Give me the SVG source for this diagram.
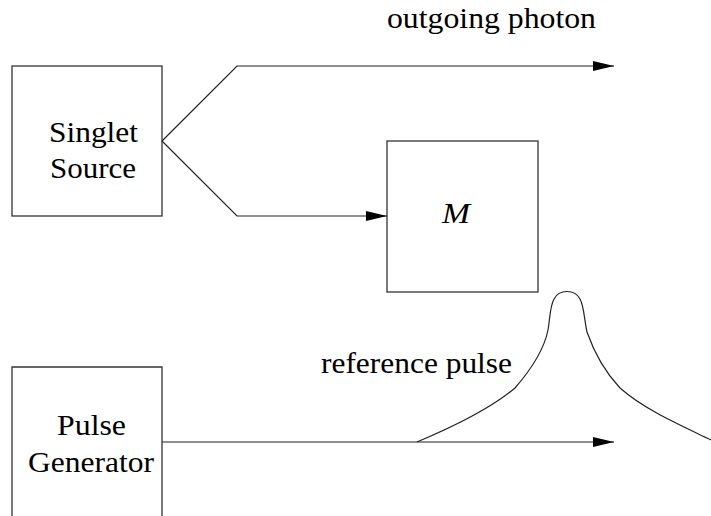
<svg xmlns="http://www.w3.org/2000/svg" width="711" height="516" viewBox="0 0 711 516">
<style>
.box{fill:none;stroke:#333;stroke-width:1.3}
.ln{fill:none;stroke:#222;stroke-width:1.2}
.t{font-family:'Liberation Serif','Times New Roman','DejaVu Serif',serif;font-size:30px;fill:#000}
</style>
<defs>
<marker id="ah" markerWidth="21" markerHeight="10" refX="21" refY="5" orient="auto" markerUnits="userSpaceOnUse">
<path d="M0,0 L21,5 L0,10 Z" fill="#000"/>
</marker>
</defs>
<rect width="711" height="516" fill="#fff"/>
<g id="singlet-source">
<rect class="box" x="12" y="66" width="150" height="150"/>
<text class="t" x="49" y="142" textLength="89" lengthAdjust="spacingAndGlyphs">Singlet</text>
<text class="t" x="50" y="178" textLength="86" lengthAdjust="spacingAndGlyphs">Source</text>
</g>
<g id="m-box">
<rect class="box" x="387" y="141" width="151" height="151"/>
<text class="t" x="442" y="223" font-style="italic" textLength="28" lengthAdjust="spacingAndGlyphs">M</text>
</g>
<g id="pulse-generator">
<path class="box" d="M12,520 L12,367 L162,367 L162,520"/>
<text class="t" x="57" y="435" textLength="69" lengthAdjust="spacingAndGlyphs">Pulse</text>
<text class="t" x="28" y="472" textLength="126" lengthAdjust="spacingAndGlyphs">Generator</text>
</g>
<g id="labels">
<text class="t" x="387" y="28" textLength="209" lengthAdjust="spacingAndGlyphs">outgoing photon</text>
<text class="t" x="321" y="373" textLength="191" lengthAdjust="spacingAndGlyphs">reference pulse</text>
</g>
<g id="connectors">
<path class="ln" d="M162,141 L237,66 L614,66" marker-end="url(#ah)"/>
<path class="ln" d="M162,141 L237,216 L387,216" marker-end="url(#ah)"/>
<path class="ln" d="M162,442 L614,442" marker-end="url(#ah)"/>
<path class="ln" d="M417,442 C460,424 495,405 515,388 C535,365 545,345 548,330 C550,318 550,306 554,299 C559,289 575,289 580,299 C584,306 584,318 587,332 C595,355 605,372 620,388 C645,410 680,425 711,440"/>
</g>
</svg>
